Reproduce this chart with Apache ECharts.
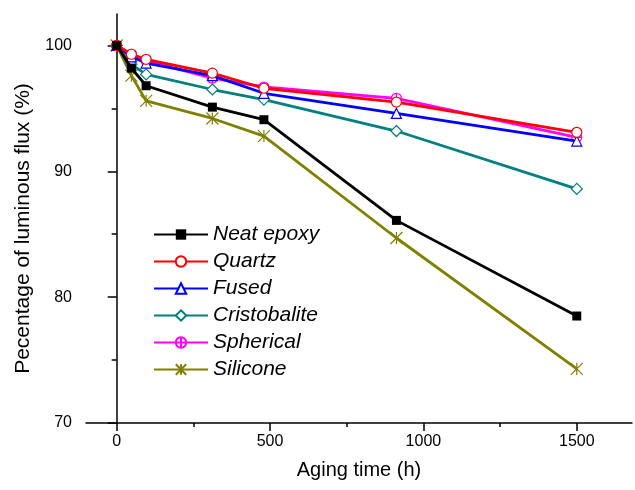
<!DOCTYPE html>
<html><head><meta charset="utf-8">
<script src="https://cdn.jsdelivr.net/npm/echarts@6/dist/echarts.min.js"></script>
<style>html,body{margin:0;padding:0;background:#fff}#c{width:635px;height:490px}</style>
</head><body><div id="c"></div>
<script>
const times = [0, 48, 96, 312, 480, 912, 1500];
const seriesNames = ['Neat epoxy', 'Quartz', 'Fused', 'Cristobalite', 'Spherical', 'Silicone'];
const neatEpoxy   = [100, 98.2, 96.8, 95.1, 94.1, 86.1, 78.5];
const quartz      = [100, 99.3, 98.9, 97.8, 96.6, 95.5, 93.1];
const fused       = [100, 99.1, 98.6, 97.6, 96.2, 94.6, 92.4];
const cristobalite= [100, 98.5, 97.7, 96.5, 95.7, 93.2, 88.6];
const spherical   = [100, 99.3, 98.8, 97.4, 96.7, 95.8, 92.7];
const silicone    = [100, 97.6, 95.6, 94.2, 92.8, 84.7, 74.3];
const xTickLabels = [0, 500, 1000, 1500];
const xMinorTicks = [250, 750, 1250];
const yTickLabels = [70, 80, 90, 100];
const yMinorTicks = [75, 85, 95];

const values = [neatEpoxy, quartz, fused, cristobalite, spherical, silicone];
const colors = ['#000000', '#ff0000', '#0000ff', '#008080', '#ff00ff', '#808000'];
const symbols = [
  'rect', 'circle', 'triangle', 'diamond',
  'path://M10,0A10,10,0,1,1,9.99,0ZM10,0L10,20M0,10L20,10',
  'path://M0,0L20,20M20,0L0,20M10,0L10,20'
];
const symbolSizes = [9, 10, 10, 11, 10, 12];
const font = 'Liberation Sans, Arial, sans-serif';

const chart = echarts.init(document.getElementById('c'), null, {renderer: 'canvas'});
const series = seriesNames.map((n, i) => ({
  name: n,
  type: 'line',
  data: times.map((t, j) => [t, values[i][j]]),
  symbol: symbols[i],
  symbolSize: symbolSizes[i],
  showAllSymbol: true,
  z: 10 - i,
  lineStyle: {color: colors[i], width: 2.8},
  itemStyle: i === 0 ? {color: colors[i], borderColor: colors[i], borderWidth: 0}
                     : {color: i === 5 ? 'rgba(255,255,255,0)' : '#ffffff', borderColor: colors[i], borderWidth: 1.2},
  emphasis: {disabled: true}
}));

const axisLineStyle = {show: true, lineStyle: {color: '#000', width: 1.5}};
const plain = v => String(v);
chart.setOption({
  animation: false,
  backgroundColor: '#fff',
  grid: {left: 86, top: 14, right: 3, bottom: 67, containLabel: false},
  legend: {
    orient: 'vertical', left: 148, top: 219,
    itemWidth: 54, itemHeight: 13, itemGap: 6,
    data: seriesNames,
    textStyle: {fontFamily: font, fontStyle: 'italic', fontSize: 21, color: '#000', lineHeight: 21}
  },
  xAxis: [{
    type: 'value', min: -100, max: 1680,
    name: 'Aging time (h)', nameLocation: 'middle', nameGap: 37,
    nameTextStyle: {fontFamily: font, fontSize: 20, color: '#000'},
    axisLine: axisLineStyle,
    axisTick: {show: true, inside: false, length: 8, customValues: xTickLabels, lineStyle: {color: '#000', width: 1.5}},
    axisLabel: {customValues: xTickLabels, formatter: plain, fontFamily: font, fontSize: 16, color: '#000', margin: 11},
    splitLine: {show: false}
  }, {
    type: 'value', min: -100, max: 1680, position: 'bottom',
    axisLine: {show: false},
    axisTick: {show: true, inside: false, length: 4, customValues: xMinorTicks, lineStyle: {color: '#000', width: 1.5}},
    axisLabel: {show: false},
    splitLine: {show: false}
  }],
  yAxis: [{
    type: 'value', min: 70, max: 102.5,
    name: 'Pecentage of luminous flux (%)', nameLocation: 'middle', nameGap: 52, nameRotate: 90,
    nameTextStyle: {fontFamily: font, fontSize: 21, color: '#000', padding: [0, 20, 0, 0]},
    axisLine: axisLineStyle,
    axisTick: {show: true, inside: false, length: 9, customValues: yTickLabels, lineStyle: {color: '#000', width: 1.5}},
    axisLabel: {customValues: yTickLabels, formatter: plain, fontFamily: font, fontSize: 16, color: '#000', margin: 14},
    splitLine: {show: false}
  }, {
    type: 'value', min: 70, max: 102.5, position: 'left',
    axisLine: {show: false},
    axisTick: {show: true, inside: false, length: 5, customValues: yMinorTicks, lineStyle: {color: '#000', width: 1.5}},
    axisLabel: {show: false},
    splitLine: {show: false}
  }],
  series: series
});
</script></body></html>
